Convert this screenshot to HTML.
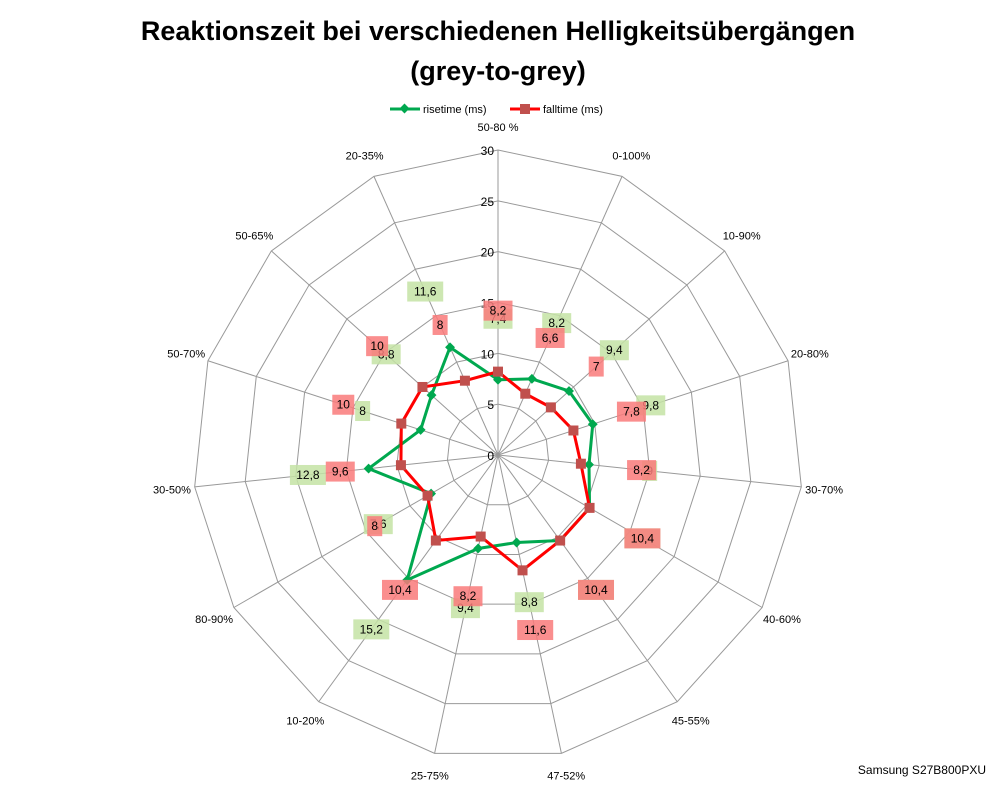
<!DOCTYPE html>
<html><head><meta charset="utf-8"><style>
body{margin:0;background:#fff;font-family:"Liberation Sans",sans-serif}
</style></head><body>
<svg id="c" width="998" height="786" viewBox="0 0 998 786" xmlns="http://www.w3.org/2000/svg">
<text x="498" y="40" text-anchor="middle" font-size="27" font-weight="bold" font-family="Liberation Sans, sans-serif">Reaktionszeit bei verschiedenen Helligkeitsübergängen</text>
<text x="498" y="80" text-anchor="middle" font-size="27" font-weight="bold" font-family="Liberation Sans, sans-serif">(grey-to-grey)</text>
<g font-size="11">
<line x1="390" y1="109" x2="420" y2="109" stroke="#00a84f" stroke-width="3"/>
<rect x="401" y="105" width="7" height="7" fill="#00a84f" transform="rotate(45 404.5 108.5)"/>
<text x="423" y="113">risetime (ms)</text>
<line x1="510" y1="109" x2="540" y2="109" stroke="#ff0000" stroke-width="3"/>
<rect x="520" y="104" width="10" height="10" fill="#c0504d"/>
<text x="543" y="113">falltime (ms)</text>
</g>
<g id="grid"></g><g id="series"></g><g id="labels"></g>
<text x="986" y="774" text-anchor="end" font-size="12">Samsung S27B800PXU</text>
</svg>
<script>
const categories=["50-80 %","0-100%","10-90%","20-80%","30-70%","40-60%","45-55%","47-52%","25-75%","10-20%","80-90%","30-50%","50-70%","50-65%","20-35%"];
const risetime=[7.4,8.2,9.4,9.8,9,10.4,10.4,8.8,9.4,15.2,7.6,12.8,8,8.8,11.6];
const falltime=[8.2,6.6,7,7.8,8.2,10.4,10.4,11.6,8.2,10.4,8,9.6,10,10,8];
const ticks=[0,5,10,15,20,25,30];
const cx=498,cy=455,R=305,maxV=30;
const NS="http://www.w3.org/2000/svg";
function ang(i){return -Math.PI/2+i*2*Math.PI/categories.length;}
function pt(i,v){const a=ang(i),r=v/maxV*R;return [cx+r*Math.cos(a),cy+r*Math.sin(a)];}
function mk(tag,attrs,parent){const e=document.createElementNS(NS,tag);for(const k in attrs)e.setAttribute(k,attrs[k]);parent.appendChild(e);return e;}
const grid=document.getElementById('grid'),ser=document.getElementById('series'),lab=document.getElementById('labels');
ticks.forEach(t=>{if(t===0)return;
 const p=mk('polygon',{points:categories.map((c,i)=>pt(i,t).join(',')).join(' '),fill:'none',stroke:'#999','stroke-width':1},grid);
 
 });
categories.forEach((c,i)=>{const [x,y]=pt(i,maxV);
 const l=mk('line',{x1:cx,y1:cy,x2:x,y2:y,stroke:'#999','stroke-width':1},grid);
 
 
 const [lx,ly]=pt(i,maxV*1.075);
 const t=mk('text',{x:lx,y:ly+4,'text-anchor':'middle','font-size':11},grid);t.textContent=c;
 
 });
ticks.forEach(t=>{const [x,y]=pt(0,t);
 const e=mk('text',{x:x-4,y:y+5,'text-anchor':'end','font-size':12},grid);e.textContent=t;
 
 });
function series(vals,color,name,marker,lblColor){
 const pl=mk('polygon',{points:vals.map((v,i)=>pt(i,v).join(',')).join(' '),fill:'none',stroke:color,'stroke-width':3},ser);
 
 
 vals.forEach((v,i)=>{const [x,y]=pt(i,v);let m;
  if(marker==='sq'){m=mk('rect',{x:x-5,y:y-5,width:10,height:10,fill:'#c0504d'},ser);}
  else{m=mk('rect',{x:x-3.5,y:y-3.5,width:7,height:7,fill:color,transform:`rotate(45 ${x} ${y})`},ser);}
  
  
  const [lx,ly]=pt(i,v+6);const s=String(v).replace('.',',');const w=s.length*7+8;
  const b=mk('rect',{x:lx-w/2,y:ly-10,width:w,height:20,fill:lblColor,opacity:0.85},lab);
  
  
  const t=mk('text',{x:lx,y:ly+4,'text-anchor':'middle','font-size':12},lab);t.textContent=s;
  
  });
}
series(risetime,'#00a84f','risetime','dia','#c4e3a4');
series(falltime,'#ff0000','falltime','sq','#f97a7a');
</script>
</body></html>
